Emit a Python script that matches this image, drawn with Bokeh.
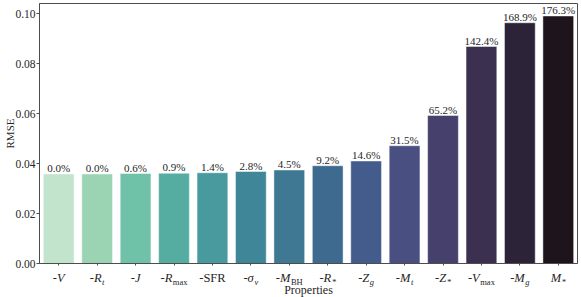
from bokeh.plotting import figure
from bokeh.models import Range1d, FixedTicker, PrintfTickFormatter, ColumnDataSource
from bokeh.layouts import column
from bokeh.embed import file_html
from bokeh.resources import INLINE

# ---- data ----
mains = ["-V", "-R", "-J", "-R", "-SFR", "-σ", "-M", "-R", "-Z", "-M", "-Z", "-V", "-M", "M"]
subs = ["", "t", "", "max", "", "v", "BH", "*", "g", "t", "*", "max", "g", "*"]
rmse = [0.0358, 0.0358, 0.0360, 0.0361, 0.0363, 0.0368, 0.0374, 0.0391, 0.0410,
        0.0471, 0.0592, 0.0868, 0.0963, 0.0990]
pct_labels = ["0.0%", "0.0%", "0.6%", "0.9%", "1.4%", "2.8%", "4.5%", "9.2%", "14.6%",
              "31.5%", "65.2%", "142.4%", "168.9%", "176.3%"]
colors = ["#c2e3cc", "#9bd4b3", "#6fc1a7", "#55ada2", "#489a9e", "#3f8698", "#3f7893",
          "#3f6a8f", "#435c8c", "#494f81", "#46406d", "#3b3050", "#2d2339", "#1e141c"]
y_ticks = [0.00, 0.02, 0.04, 0.06, 0.08, 0.10]

FONT = "Liberation Serif"
TXT = "#262626"
EDGE = "#4d4d4d"
W = 580
LEFT = 39
RIGHT = 3

idx = list(range(len(rmse)))
src = ColumnDataSource(dict(x=idx, top=rmse, color=colors, lab=pct_labels))
xr = Range1d(-0.5, len(rmse) - 0.5)

p = figure(width=W, height=270, output_backend="svg", toolbar_location=None,
           x_range=xr, y_range=Range1d(0, 0.104),
           min_border_left=LEFT, min_border_right=RIGHT, min_border_top=3, min_border_bottom=7)
p.background_fill_color = "white"
p.border_fill_color = "white"
p.outline_line_color = EDGE
p.outline_line_alpha = 1
p.grid.visible = False

p.vbar(x="x", top="top", bottom=0, width=0.8, fill_color="color", source=src,
       line_color="white", line_alpha=0.45, line_width=1)
p.text(x="x", y="top", text="lab", source=src, text_align="center", text_baseline="bottom",
       text_font=FONT, text_font_size="11px", text_color=TXT)

# y axis
ya = p.yaxis[0]
ya.ticker = FixedTicker(ticks=y_ticks)
ya.formatter = PrintfTickFormatter(format="%.2f")
ya.minor_tick_line_color = None
ya.major_tick_out = 3
ya.major_tick_in = 0
ya.major_label_standoff = 1
ya.major_label_text_font = FONT
ya.major_label_text_font_size = "11.5px"
ya.major_label_text_color = TXT
ya.axis_label = "RMSE"
ya.axis_label_text_font = FONT
ya.axis_label_text_font_style = "normal"
ya.axis_label_text_font_size = "11px"
ya.axis_label_text_color = TXT
ya.axis_label_standoff = -4
ya.axis_line_color = EDGE
ya.major_tick_line_color = EDGE

# x axis: ticks only; the composite tick labels are drawn in the strip below
xa = p.xaxis[0]
xa.ticker = FixedTicker(ticks=idx)
xa.major_label_overrides = {i: " " for i in idx}
xa.minor_tick_line_color = None
xa.major_tick_out = 2
xa.major_tick_in = 0
xa.major_label_standoff = 0
xa.major_label_text_font_size = "0px"
xa.axis_line_color = EDGE
xa.major_tick_line_color = EDGE

# approximate glyph widths (per 1000 em) for centring composite labels
W_IT = {"-": 333, "V": 611, "R": 611, "J": 444, "M": 833, "Z": 556, "σ": 520,
        "t": 278, "v": 444, "g": 500, "*": 500}
W_RM = {"-": 333, "S": 556, "F": 556, "R": 667, "m": 778, "a": 444, "x": 500,
        "B": 667, "H": 722, "*": 500}
MAIN_SZ = 12.5
SUB_SZ = 8.5

def width(s, size, italic):
    tab = W_IT if italic else W_RM
    return sum(tab.get(c, 550) for c in s) * size / 1000.0

mx, mxo, mst, sx, sxo, sst = [], [], [], [], [], []
for i, (m, s) in enumerate(zip(mains, subs)):
    m_it = "SFR" not in m
    s_it = s in ("t", "v", "g", "*")
    wm = width(m, MAIN_SZ, m_it)
    ws = width(s, SUB_SZ, s_it) + (0.5 if s else 0)
    start = -(wm + ws) / 2.0
    mx.append(i); mxo.append(start); mst.append("italic" if m_it else "normal")
    sx.append(i); sxo.append(start + wm + 0.5); sst.append("italic" if s_it else "normal")

msrc = ColumnDataSource(dict(x=mx, xo=mxo, st=mst, t=mains, y=[1.0] * len(mains)))
ssrc = ColumnDataSource(dict(x=sx, xo=sxo, st=sst, t=subs, y=[1.0] * len(subs)))

# strip below the plot that carries the tick labels and the axis title
q = figure(width=W, height=27, output_backend="svg", toolbar_location=None,
           x_range=xr, y_range=Range1d(0, 1),
           min_border_left=LEFT, min_border_right=RIGHT, min_border_top=0, min_border_bottom=0)
q.outline_line_color = None
q.grid.visible = False
q.yaxis.visible = False
q.xaxis.visible = False
q.text(x="x", y="y", text="t", source=msrc, x_offset="xo", y_offset=0,
       text_font_style="st", text_align="left", text_baseline="top",
       text_font=FONT, text_font_size=f"{MAIN_SZ}px", text_color=TXT)
q.text(x="x", y="y", text="t", source=ssrc, x_offset="xo", y_offset=6.5,
       text_font_style="st", text_align="left", text_baseline="top",
       text_font=FONT, text_font_size=f"{SUB_SZ}px", text_color=TXT)
q.text(x=[(len(rmse) - 1) / 2.0], y=[0.0], text=["Properties"], text_align="center",
       text_baseline="bottom", y_offset=-1, text_font=FONT, text_font_size="12px",
       text_color=TXT)

layout = column(p, q, spacing=0)
open("out.html", "w").write(file_html(layout, INLINE))
